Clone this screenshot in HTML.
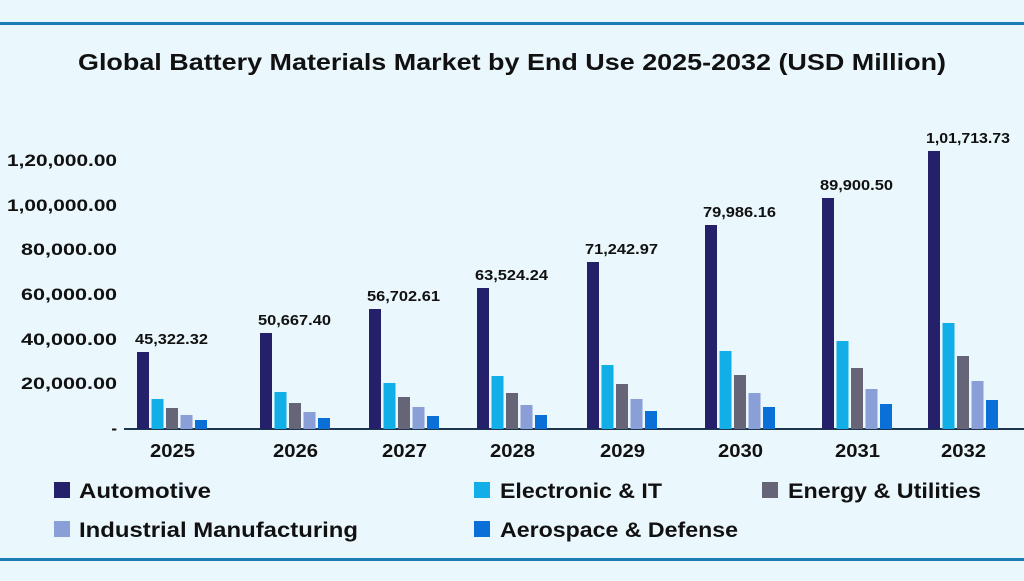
<!DOCTYPE html><html><head><style>
body{margin:0;width:1024px;height:576px;background:#eaf7fd;overflow:hidden;font-family:"Liberation Sans",sans-serif}
</style></head><body>
<svg width="1024" height="576" xmlns="http://www.w3.org/2000/svg" font-family="Liberation Sans, sans-serif" font-weight="bold" fill="#111">
<rect x="0" y="0" width="1024" height="576" fill="#eaf7fd"/>
<rect x="0" y="22" width="1024" height="3" fill="#1a7fb0"/>
<rect x="0" y="558" width="1024" height="3" fill="#1a7fb0"/>
<text x="78" y="70" font-size="23" textLength="868" lengthAdjust="spacingAndGlyphs">Global Battery Materials Market by End Use 2025-2032 (USD Million)</text>
<g font-size="17">
<text x="7" y="166" textLength="110" lengthAdjust="spacingAndGlyphs">1,20,000.00</text>
<text x="7" y="211" textLength="110" lengthAdjust="spacingAndGlyphs">1,00,000.00</text>
<text x="21" y="255" textLength="96" lengthAdjust="spacingAndGlyphs">80,000.00</text>
<text x="21" y="300" textLength="96" lengthAdjust="spacingAndGlyphs">60,000.00</text>
<text x="21" y="345" textLength="96" lengthAdjust="spacingAndGlyphs">40,000.00</text>
<text x="21" y="389" textLength="96" lengthAdjust="spacingAndGlyphs">20,000.00</text>
<text x="117" y="434" text-anchor="end">-</text>
</g>
<rect x="124" y="428" width="900" height="2" fill="#1e3550"/>
<g id="bars"></g>
<g font-size="18" id="years"></g>
<g font-size="15" id="vals"></g>
<g font-size="21">
<rect x="54" y="482" width="16" height="16" fill="#24206a"/><text x="79" y="498" textLength="132" lengthAdjust="spacingAndGlyphs">Automotive</text>
<rect x="474" y="482" width="16" height="16" fill="#12aee8"/><text x="500" y="498" textLength="162" lengthAdjust="spacingAndGlyphs">Electronic &amp; IT</text>
<rect x="762" y="482" width="16" height="16" fill="#666577"/><text x="788" y="498" textLength="193" lengthAdjust="spacingAndGlyphs">Energy &amp; Utilities</text>
<rect x="54" y="521" width="16" height="16" fill="#8a9ed8"/><text x="79" y="537" textLength="279" lengthAdjust="spacingAndGlyphs">Industrial Manufacturing</text>
<rect x="474" y="521" width="16" height="16" fill="#0a6fd6"/><text x="500" y="537" textLength="238" lengthAdjust="spacingAndGlyphs">Aerospace &amp; Defense</text>
</g>
</svg>
<script>
var xs=[137,260,369,477,587,705,822,928];
var tops=[[352,399,408,415,420],[333,392,403,412,418],[309,383,397,407,416],[288,376,393,405,415],[262,365,384,399,411],[225,351,375,393,407],[198,341,368,389,404],[151,323,356,381,400]];
var cols=["#24206a","#12aee8","#666577","#8a9ed8","#0a6fd6"];
var labs=["45,322.32","50,667.40","56,702.61","63,524.24","71,242.97","79,986.16","89,900.50","1,01,713.73"];
var yrs=["2025","2026","2027","2028","2029","2030","2031","2032"];
var ns="http://www.w3.org/2000/svg",b=document.getElementById("bars"),y=document.getElementById("years"),v=document.getElementById("vals");
xs.forEach(function(x,i){for(var k=0;k<5;k++){var r=document.createElementNS(ns,"rect");r.setAttribute("x",x+k*14.5);r.setAttribute("y",tops[i][k]);r.setAttribute("width",12);r.setAttribute("height",429-tops[i][k]);r.setAttribute("fill",cols[k]);b.appendChild(r);}
var t=document.createElementNS(ns,"text");t.setAttribute("x",x+13);t.setAttribute("y",457);t.setAttribute("textLength",45);t.setAttribute("lengthAdjust","spacingAndGlyphs");t.textContent=yrs[i];y.appendChild(t);
var l=document.createElementNS(ns,"text");l.setAttribute("x",x-2);l.setAttribute("y",tops[i][0]-8);l.setAttribute("textLength",i==7?84:73);l.setAttribute("lengthAdjust","spacingAndGlyphs");l.textContent=labs[i];v.appendChild(l);});
</script>
</body></html>
